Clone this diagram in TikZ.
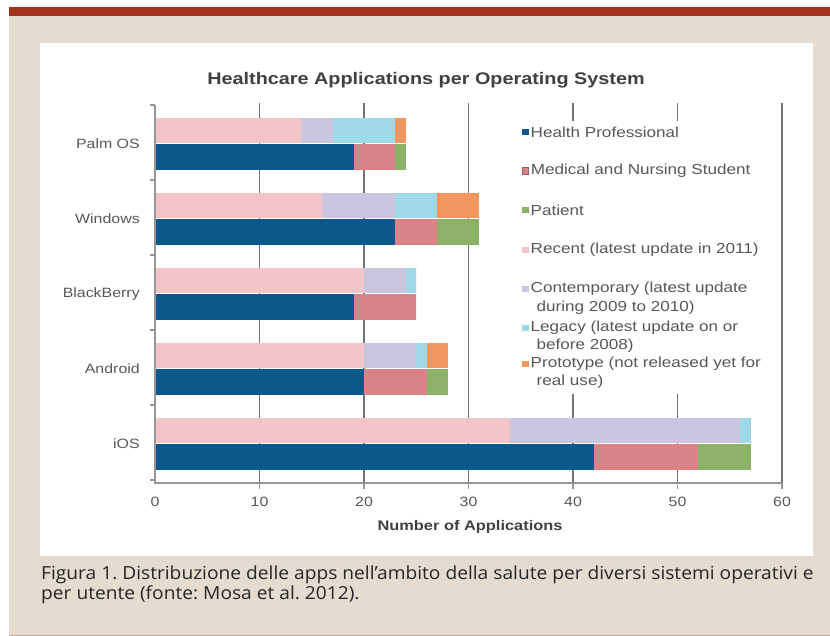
\documentclass[tikz,border=0pt]{standalone}
\usepackage{fontspec}
\setmainfont{Liberation Sans}
\newfontfamily\capfont{Open Sans}
\usetikzlibrary{positioning}
\frenchspacing

\definecolor{pagebg}{RGB}{229,220,207}
\definecolor{topbar}{RGB}{160,49,26}
\definecolor{rulecol}{RGB}{200,168,152}
\definecolor{hpblue}{RGB}{12,88,138}
\definecolor{mnsred}{RGB}{217,130,135}
\definecolor{patgreen}{RGB}{140,178,106}
\definecolor{recpink}{RGB}{243,197,200}
\definecolor{conlav}{RGB}{204,197,223}
\definecolor{legcyan}{RGB}{159,216,231}
\definecolor{protorange}{RGB}{242,150,96}
\definecolor{gridgray}{RGB}{115,115,115}
\definecolor{axisgray}{RGB}{150,150,150}
\definecolor{labgray}{RGB}{88,88,88}

\begin{document}
\begin{tikzpicture}[x=1pt, y=-1pt,
  charttext/.style={inner sep=0pt, xscale=1.18, text=labgray},
  catlabel/.style={charttext, anchor=east, font=\fontsize{13.5}{16}\selectfont},
  ticklabel/.style={charttext, font=\fontsize{13.5}{16}\selectfont},
  legtext/.style={charttext, anchor=west, font=\fontsize{14.5}{17}\selectfont},
  legkey/.style={draw=none, inner sep=0pt, minimum size=6.5pt},
  heading/.style={charttext, text=black!75, font=\bfseries\fontsize{16.8}{20}\selectfont},
  axtitle/.style={charttext, text=black!75, font=\bfseries\fontsize{13.9}{17}\selectfont},
  captext/.style={anchor=base west, inner sep=0pt, xscale=1.065, text=black!85, font=\capfont\fontsize{18}{21}\selectfont},
  grid/.style={gridgray, line width=1.6pt},
  axis/.style={axisgray, line width=1.4pt}]
\useasboundingbox (0,0) rectangle (830,636);
\fill[white] (0,0) rectangle (830,636);
\fill[pagebg] (9,7) rectangle (830,636);
\fill[topbar] (9,7) rectangle (830,16);
\draw[rulecol, line width=1.2pt] (9,635.4) -- (830,635.4);
\fill[white] (40,43) rectangle (813,556);

\node[heading] (title) at (426,80) {Healthcare Applications per Operating System};

\begin{scope}[shift={(155,0)}, x=10.45pt]
\foreach \v in {10,20,...,60} {
  \draw[grid] (\v,103) -- (\v,483);
  \draw[axis] (\v,483) -- (\v,489);
}
\fill[white] (33.5,121) rectangle (59.5,394);
\foreach \k/\a/\b/\c/\d in {0/14/17/23/24, 1/16/23/27/31, 2/20/24/25/25, 3/20/25/26/28, 4/34/56/57/57} {
  \fill[recpink] (0,{118+75*\k}) rectangle (\a,{143+75*\k});
  \fill[conlav] (\a,{118+75*\k}) rectangle (\b,{143+75*\k});
  \fill[legcyan] (\b,{118+75*\k}) rectangle (\c,{143+75*\k});
  \fill[protorange] (\c,{118+75*\k}) rectangle (\d,{143+75*\k});
}
\foreach \k/\a/\b/\c in {0/19/23/24, 1/23/27/31, 2/19/25/25, 3/20/26/28, 4/42/52/57} {
  \fill[hpblue] (0,{144+75*\k}) rectangle (\a,{170+75*\k});
  \fill[mnsred] (\a,{144+75*\k}) rectangle (\b,{170+75*\k});
  \fill[patgreen] (\b,{144+75*\k}) rectangle (\c,{170+75*\k});
}
\draw[axis] (0,105) -- (0,483) -- (60,483);
\foreach \k in {0,...,5}
  \draw[axis] (-0.5,{105+75*\k}) -- (0,{105+75*\k});
\foreach \v in {0,10,...,60}
  \node[ticklabel] (t\v) at (\v,502) {\v};
\end{scope}

\foreach \k/\n/\t in {0/palm/Palm OS, 1/win/Windows, 2/bb/BlackBerry, 3/andr/Android, 4/ios/iOS}
  \node[catlabel] (\n) at (140,{144+75*\k}) {\t};

\node[axtitle] (xlab) at (470,527) {Number of Applications};

\node[legkey, fill=hpblue] (k1) at (525.5,132) {};
\node[legtext, right=1.5pt of k1] (l1) {Health Professional};
\node[legkey, fill=mnsred, draw=mnsred!70!black, line width=0.6pt] (k2) at (525.5,171) {};
\node[legtext, right=1.5pt of k2] (l2) {Medical and Nursing Student};
\node[legkey, fill=patgreen] (k3) at (525.5,210) {};
\node[legtext, right=1.5pt of k3] (l3) {Patient};
\node[legkey, fill=recpink] (k4) at (525.5,250) {};
\node[legtext, right=1.5pt of k4] (l4) {Recent (latest update in 2011)};
\node[legkey, fill=conlav] (k5) at (525.5,289) {};
\node[legtext, right=1.5pt of k5] (l5) {Contemporary (latest update};
\node[legtext] (l5b) at ([xshift=6pt]l5.west |- 0,308) {during 2009 to 2010)};
\node[legkey, fill=legcyan] (k6) at (525.5,328) {};
\node[legtext, right=1.5pt of k6] (l6) {Legacy (latest update on or};
\node[legtext] (l6b) at ([xshift=6pt]l6.west |- 0,346) {before 2008)};
\node[legkey, fill=protorange] (k7) at (525.5,364) {};
\node[legtext, right=1.5pt of k7] (l7) {Prototype (not released yet for};
\node[legtext] (l7b) at ([xshift=6pt]l7.west |- 0,382) {real use)};

\node[captext] (cap1) at (41,579)
  {Figura 1. Distribuzione delle apps nell’ambito della salute per diversi sistemi operativi e};
\node[captext] (cap2) at (41,599) {per utente (fonte: Mosa et al. 2012).};
\end{tikzpicture}
\end{document}
